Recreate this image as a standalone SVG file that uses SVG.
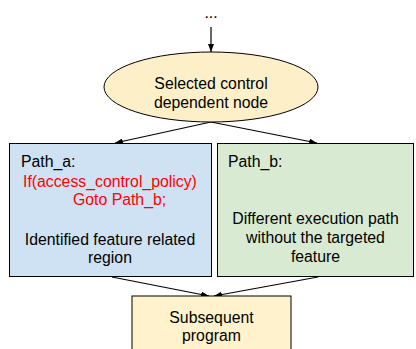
<svg xmlns="http://www.w3.org/2000/svg" width="416" height="349" viewBox="0 0 416 349">
<defs>
<marker id="arr" markerWidth="8" markerHeight="6" refX="8" refY="3" orient="auto" markerUnits="userSpaceOnUse">
<path d="M0,0 L8,3 L0,6 Z" fill="#000"/>
</marker>
<style>
text{font-family:"Liberation Sans",Arial,sans-serif;font-size:15.8px;fill:#000}
.red{fill:#ff0000}
.c{text-anchor:middle}
.node{stroke:#000;stroke-width:1}
.edge{stroke:#000;stroke-width:1.2;fill:none;marker-end:url(#arr)}
</style>
</defs>
<rect width="416" height="349" fill="#fff"/>
<g id="connectors">
<line class="edge" x1="211" y1="27" x2="211" y2="52"/>
<line class="edge" x1="211" y1="122" x2="115" y2="143"/>
<line class="edge" x1="211" y1="122" x2="317" y2="143"/>
<line class="edge" x1="112" y1="277" x2="209" y2="296"/>
<line class="edge" x1="318" y1="277" x2="214" y2="296"/>
</g>
<g id="top">
<text class="c" x="211" y="18">...</text>
</g>
<g id="selected">
<ellipse class="node" cx="211" cy="87" rx="107" ry="35" fill="#fdf0c9"/>
<text class="c" x="211" y="89">Selected control</text>
<text class="c" x="211" y="108">dependent node</text>
</g>
<g id="path_a">
<rect class="node" x="9.5" y="143.5" width="202" height="133" fill="#cfe2f3"/>
<text x="21" y="167">Path_a:</text>
<text class="red" x="23" y="186.5">If(access_control_policy)</text>
<text class="red" x="73" y="205">Goto Path_b;</text>
<text class="c" x="110" y="245">Identified feature related</text>
<text class="c" x="110" y="263">region</text>
</g>
<g id="path_b">
<rect class="node" x="217.5" y="143.5" width="196" height="133" fill="#d9ead3"/>
<text x="228" y="167">Path_b:</text>
<text class="c" x="315.5" y="224">Different execution path</text>
<text class="c" x="315.5" y="243">without the targeted</text>
<text class="c" x="315.5" y="262">feature</text>
</g>
<g id="subsequent">
<rect class="node" x="132" y="296" width="159" height="70" fill="#fff2cc"/>
<text class="c" x="211.5" y="323">Subsequent</text>
<text class="c" x="211.5" y="341">program</text>
</g>
</svg>
